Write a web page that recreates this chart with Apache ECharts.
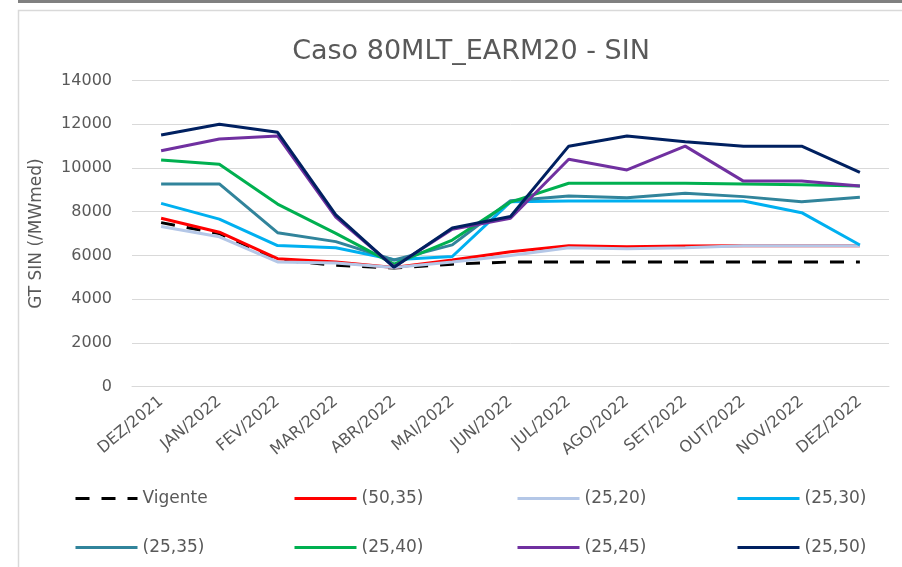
<!DOCTYPE html>
<html>
<head>
<meta charset="utf-8">
<script src="https://cdn.jsdelivr.net/npm/echarts@6/dist/echarts.min.js"></script>
<style>
html,body{margin:0;padding:0;background:#fff;}
#chart{width:902px;height:567px;}
</style>
</head>
<body>
<div id="chart"></div>
<script>
const categories = ['DEZ/2021','JAN/2022','FEV/2022','MAR/2022','ABR/2022','MAI/2022','JUN/2022','JUL/2022','AGO/2022','SET/2022','OUT/2022','NOV/2022','DEZ/2022'];
const yTicks = [0, 2000, 4000, 6000, 8000, 10000, 12000, 14000];
const seriesNames = ['Vigente','(50,35)','(25,20)','(25,30)','(25,35)','(25,40)','(25,45)','(25,50)'];
const vigente = [7500, 7000, 5800, 5550, 5420, 5600, 5700, 5700, 5700, 5700, 5700, 5700, 5700];
const s50_35 = [7700, 7060, 5850, 5700, 5450, 5790, 6170, 6445, 6400, 6430, 6440, 6440, 6440];
const s25_20 = [7320, 6850, 5700, 5650, 5450, 5700, 6000, 6350, 6300, 6350, 6440, 6440, 6440];
const s25_30 = [8380, 7660, 6450, 6350, 5800, 5950, 8450, 8490, 8490, 8490, 8490, 7955, 6476];
const s25_35 = [9270, 9270, 7040, 6630, 5790, 6480, 8500, 8720, 8640, 8840, 8690, 8460, 8660];
const s25_40 = [10370, 10170, 8350, 7010, 5600, 6700, 8440, 9300, 9300, 9300, 9270, 9230, 9180];
const s25_45 = [10790, 11330, 11465, 7750, 5480, 7200, 7700, 10400, 9910, 11000, 9400, 9400, 9180];
const s25_50 = [11510, 12000, 11635, 7850, 5455, 7250, 7780, 11000, 11460, 11200, 11000, 11000, 9800];
const seriesData = [vigente, s50_35, s25_20, s25_30, s25_35, s25_40, s25_45, s25_50];
const colors = ['#000000','#FF0000','#B4C7E7','#00B0F0','#31849B','#00B050','#7030A0','#002060'];

const FONT = 'DejaVu Sans';
const TXT = '#595959';

const chart = echarts.init(document.getElementById('chart'), null, {renderer:'canvas'});

const series = seriesNames.map((n, i) => ({
  name: n,
  type: 'line',
  data: seriesData[i],
  symbol: 'none',
  smooth: false,
  color: colors[i],
  lineStyle: {width: 3, color: colors[i], type: i === 0 ? [14, 12] : 'solid'},
  z: 2 + i
}));

const legX = [74, 293, 516, 736];
const legY = [490, 539];
const legends = seriesNames.map((n, i) => ({
  data: [n],
  left: legX[i % 4],
  top: legY[Math.floor(i / 4)],
  padding: 0,
  itemWidth: 62,
  itemHeight: 14,
  itemGap: 0,
  itemStyle: {opacity: 0},
  lineStyle: {width: 3},
  textStyle: {fontFamily: FONT, fontSize: 17, color: TXT},
  selectedMode: false
}));

chart.setOption({
  animation: false,
  backgroundColor: '#fff',
  title: {
    text: 'Caso 80MLT_EARM20 - SIN',
    left: 466,
    top: 33,
    textAlign: 'center',
    textStyle: {fontFamily: FONT, fontSize: 27, fontWeight: 'normal', color: TXT}
  },
  graphic: [
    {type: 'rect', shape: {x: 18, y: 0, width: 884, height: 3}, style: {fill: '#808080'}, silent: true},
    {type: 'rect', shape: {x: 18.5, y: 10.5, width: 900, height: 600}, style: {fill: 'none', stroke: '#d9d9d9', lineWidth: 1.5}, silent: true}
  ],
  legend: legends,
  grid: {left: 132, right: 13, top: 80.6, bottom: 180.5, containLabel: false},
  xAxis: {
    type: 'category',
    data: categories,
    boundaryGap: true,
    axisLine: {show: true, lineStyle: {color: '#d9d9d9', width: 1}},
    axisTick: {show: false},
    axisLabel: {rotate: 40, margin: 13, fontFamily: FONT, fontSize: 16, color: TXT, interval: 0}
  },
  yAxis: {
    type: 'value',
    min: yTicks[0],
    max: yTicks[yTicks.length - 1],
    interval: yTicks[1] - yTicks[0],
    name: 'GT SIN (/MWmed)',
    nameLocation: 'middle',
    nameGap: 87,
    nameTextStyle: {fontFamily: FONT, fontSize: 17, color: TXT},
    axisLine: {show: false},
    axisTick: {show: false},
    splitLine: {show: true, lineStyle: {color: '#d9d9d9', width: 1}},
    axisLabel: {margin: 20, fontFamily: FONT, fontSize: 16, color: TXT, formatter: v => String(v)}
  },
  series: series
});
</script>
</body>
</html>
